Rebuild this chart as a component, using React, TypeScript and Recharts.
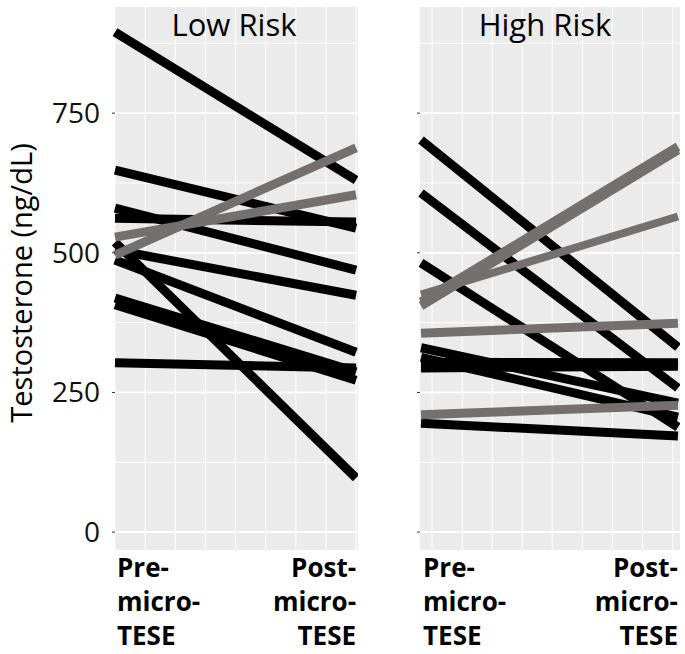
import { LineChart, Line, XAxis, YAxis, CartesianGrid } from "recharts";

// Testosterone (ng/dL) before and after micro-TESE, one line per patient
const lowRiskBlackPre = [895, 648, 580, 562, 519, 505, 487, 419, 407, 303];
const lowRiskBlackPost = [630, 544, 469, 555, 97, 424, 322, 287, 272, 294];
const lowRiskGreyPre = [528, 496];
const lowRiskGreyPost = [604, 688];

const highRiskBlackPre = [702, 607, 482, 330, 313, 304, 294, 195];
const highRiskBlackPost = [331, 258, 188, 231, 206, 303, 297, 172];
const highRiskGreyPre = [412, 405, 425, 356, 210];
const highRiskGreyPost = [690, 684, 565, 374, 227];

const yTicks = [0, 250, 500, 750];
const yMinor = [125, 375, 625, 875];
const leftGridX = [0, 0.125, 0.25, 0.375, 0.5, 0.625, 0.75, 0.875, 1];
const rightGridX = [0.043, 0.16, 0.277, 0.394, 0.511, 0.628, 0.745, 0.862, 0.98];

const preLabel = ["Pre-", "micro-", "TESE"];
const postLabel = ["Post-", "micro-", "TESE"];

const FONT = "'Open Sans', sans-serif";
const BLACK = "#000000";
const GREY = "#747070";

function buildData(bPre: number[], bPost: number[], gPre: number[], gPost: number[]) {
  const pre: Record<string, number> = { x: 0 };
  const post: Record<string, number> = { x: 1 };
  bPre.forEach((v, i) => { pre["b" + i] = v; post["b" + i] = bPost[i]; });
  gPre.forEach((v, i) => { pre["g" + i] = v; post["g" + i] = gPost[i]; });
  return [pre, post];
}

const lowData = buildData(lowRiskBlackPre, lowRiskBlackPost, lowRiskGreyPre, lowRiskGreyPost);
const highData = buildData(highRiskBlackPre, highRiskBlackPost, highRiskGreyPre, highRiskGreyPost);

function XTick(props: any) {
  const { x, y, payload } = props;
  if (payload.value !== 0 && payload.value !== 1) return <g />;
  const isPre = payload.value === 0;
  const lines = isPre ? preLabel : postLabel;
  return (
    <g>
      {lines.map((t, i) => (
        <text
          key={i}
          x={isPre ? x + 2 : x}
          y={y + 27 + i * 34}
          textAnchor={isPre ? "start" : "end"}
          fontFamily={FONT}
          fontWeight={700}
          fontSize={26}
          fill="#000"
        >
          {t}
        </text>
      ))}
    </g>
  );
}

function Panel({ data, nBlack, nGrey, greyWidths, gridX, xDomain, showLabels, width, yWidth }: any) {
  const blacks = Array.from({ length: nBlack }, (_, i) => "b" + i);
  const greys = Array.from({ length: nGrey }, (_, i) => "g" + i);
  return (
    <LineChart width={width} height={654} data={data} margin={{ top: 7, right: 0, bottom: 0, left: 0 }}>
      <CartesianGrid
        fill="#ebebeb"
        stroke="#ffffff"
        strokeWidth={1}
        horizontalValues={yMinor}
        verticalValues={gridX}
        syncWithTicks={false}
      />
      <CartesianGrid
        stroke="#ffffff"
        strokeWidth={1.7}
        horizontalValues={yTicks}
        vertical={false}
        syncWithTicks={false}
      />
      <XAxis
        dataKey="x"
        type="number"
        domain={xDomain}
        ticks={[0, 1]}
        interval={0}
        height={104}
        axisLine={false}
        tickLine={false}
        tickSize={0}
        tickMargin={0}
        tick={<XTick />}
      />
      <YAxis
        type="number"
        domain={[-32, 940]}
        ticks={yTicks}
        interval={0}
        width={yWidth}
        axisLine={false}
        tickSize={3}
        tickMargin={12}
        tickLine={{ stroke: "#333", strokeWidth: 1 }}
        tickFormatter={(v: number) => (showLabels ? String(v) : "")}
        tick={{ fontFamily: FONT, fontSize: 28, fill: "#111" }}
      />
      {blacks.map((k) => (
        <Line key={k} dataKey={k} type="linear" stroke={BLACK} strokeWidth={9} dot={false} activeDot={false} isAnimationActive={false} />
      ))}
      {greys.map((k, i) => (
        <Line key={k} dataKey={k} type="linear" stroke={GREY} strokeWidth={greyWidths[i]} dot={false} activeDot={false} isAnimationActive={false} />
      ))}
    </LineChart>
  );
}

export default function App() {
  return (
    <div style={{ position: "absolute", left: 0, top: 0, width: 685, height: 654, background: "#fff" }}>
      <div style={{ position: "absolute", left: 0, top: 0 }}>
        <Panel
          data={lowData}
          nBlack={lowRiskBlackPre.length}
          nGrey={lowRiskGreyPre.length}
          greyWidths={[9, 9]}
          gridX={leftGridX}
          xDomain={[0, 1.008]}
          showLabels={true}
          width={358}
          yWidth={115}
        />
      </div>
      <div style={{ position: "absolute", left: 405, top: 0 }}>
        <Panel
          data={highData}
          nBlack={highRiskBlackPre.length}
          nGrey={highRiskGreyPre.length}
          greyWidths={[9, 9, 8, 9, 9]}
          gridX={rightGridX}
          xDomain={[-0.004, 1.008]}
          showLabels={false}
          width={275}
          yWidth={15}
        />
      </div>
      <svg width={685} height={654} style={{ position: "absolute", left: 0, top: 0, pointerEvents: "none" }}>
        <text x={234} y={36} textAnchor="middle" fontFamily={FONT} fontSize={31} fill="#000">Low Risk</text>
        <text x={545} y={36} textAnchor="middle" fontFamily={FONT} fontSize={31} fill="#000">High Risk</text>
        <text
          x={0}
          y={0}
          transform="translate(32, 283) rotate(-90)"
          textAnchor="middle"
          fontFamily={FONT}
          fontSize={29}
          fill="#000"
        >
          Testosterone (ng/dL)
        </text>
      </svg>
    </div>
  );
}
